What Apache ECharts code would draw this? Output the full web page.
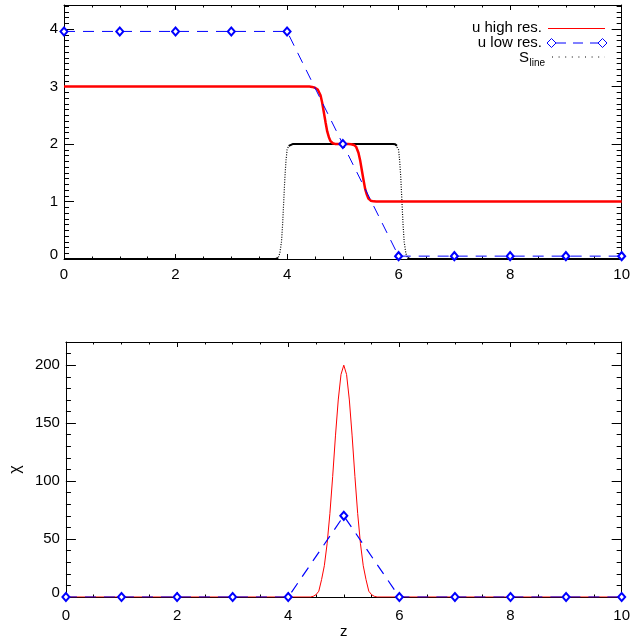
<!DOCTYPE html>
<html><head><meta charset="utf-8">
<script src="https://cdn.jsdelivr.net/npm/echarts@6/dist/echarts.min.js"></script>
<style>html,body{margin:0;padding:0;background:#fff}#c{width:633px;height:641px}</style>
</head><body><div id="c"></div>
<script>
// ---- Data ----
// Top panel: u high resolution
const zHigh = [0, 4.4, 4.45, 4.5, 4.55, 4.6, 4.63, 4.66, 4.69, 4.72, 4.75, 4.78, 4.82, 4.86, 4.9, 5.1, 5.15, 5.2, 5.24, 5.28, 5.31, 5.34, 5.37, 5.40, 5.43, 5.46, 5.5, 5.55, 5.6, 10];
const uHigh = [3, 3, 2.995, 2.98, 2.95, 2.85, 2.72, 2.55, 2.38, 2.22, 2.12, 2.05, 2.015, 2.003, 2, 2, 1.997, 1.985, 1.95, 1.85, 1.72, 1.55, 1.38, 1.22, 1.12, 1.05, 1.015, 1.003, 1, 1];
// Top panel: S_line
const zSline = [0, 3.8, 3.84, 3.87, 3.9, 3.92, 3.94, 3.96, 3.98, 4.0, 4.03, 4.06, 4.1, 5.9, 5.94, 5.97, 6.0, 6.02, 6.04, 6.06, 6.08, 6.1, 6.13, 6.16, 6.2, 10];
const sLine  = [0, 0, 0.02, 0.1, 0.3, 0.6, 1.0, 1.4, 1.7, 1.9, 1.97, 1.995, 2, 2, 1.995, 1.97, 1.9, 1.7, 1.4, 1.0, 0.6, 0.3, 0.1, 0.02, 0, 0];
// Low resolution grid
const zLow = [0, 1, 2, 3, 4, 5, 6, 7, 8, 9, 10];
const uLow = [3.96, 3.96, 3.96, 3.96, 3.96, 2.0, 0.05, 0.05, 0.05, 0.05, 0.05];
// Bottom panel: chi
const zChiHigh = [0, 4.4, 4.45, 4.5, 4.55, 4.6, 4.65, 4.7, 4.75, 4.8, 4.85, 4.9, 4.95, 5.0, 5.05, 5.1, 5.15, 5.2, 5.25, 5.3, 5.35, 5.4, 5.45, 5.5, 5.55, 5.6, 10];
const chiHigh  = [0, 0, 0.6, 2, 5, 15, 27, 46, 72, 104, 139, 170, 192, 200, 192, 170, 139, 104, 72, 46, 27, 15, 5, 2, 0.6, 0, 0];
const chiLow = [0, 0, 0, 0, 0, 70, 0, 0, 0, 0, 0];
// Axis settings
const xRange = [0, 10], xMajor = 2, xMinorSplit = 4;
const yTopRange = [0, 4.42], yTopMajor = 1, yTopMinor = 0.1;
const yBotRange = [0, 220], yBotMajor = 50, yBotMinor = 10;

const FONT = '"Liberation Sans", Arial, sans-serif';
const zip = (a, b) => a.map((v, i) => [v, b[i]]);

function xAxes(gi, labelMargin, name) {
  const base = {
    gridIndex: gi, type: 'value', min: xRange[0], max: xRange[1], interval: xMajor,
    axisLine: { show: true, onZero: false, lineStyle: { color: '#000', width: 1 } },
    axisTick: { show: true, inside: true, length: 5, lineStyle: { color: '#000' } },
    minorTick: { show: true, splitNumber: xMinorSplit, length: 2.5, lineStyle: { color: '#000' } },
    splitLine: { show: false }, minorSplitLine: { show: false }
  };
  return [
    Object.assign({}, base, {
      position: 'bottom',
      axisLabel: { show: true, margin: labelMargin, color: '#000', fontSize: 15, fontFamily: FONT },
      name: name || '', nameLocation: 'middle', nameGap: 24,
      nameTextStyle: { color: '#000', fontSize: 15, fontFamily: FONT }
    }),
    Object.assign({}, base, { position: 'top', axisLabel: { show: false } })
  ];
}

function yAxes(gi, range, major, minor, name) {
  const common = {
    gridIndex: gi, type: 'value', min: range[0], max: range[1],
    splitLine: { show: false }
  };
  const lab = {
    show: true, margin: 6, color: '#000', fontSize: 15, fontFamily: FONT,
    showMaxLabel: false,
    formatter: v => (v === 0 ? '{z|0}' : String(v)),
    rich: { z: { fontSize: 15, fontFamily: FONT, color: '#000', padding: [0, 0, 9, 0] } }
  };
  const mk = (pos, isMajor, withLabel) => Object.assign({}, common, {
    position: pos,
    interval: isMajor ? major : minor,
    axisLine: { show: isMajor, onZero: false, lineStyle: { color: '#000', width: 1 } },
    axisTick: { show: true, inside: true, length: isMajor ? 10 : 5, lineStyle: { color: '#000' } },
    axisLabel: withLabel ? lab : { show: false },
    name: withLabel && name ? name : '',
    nameLocation: 'middle', nameGap: 40, nameRotate: 90,
    nameTextStyle: { color: '#000', fontSize: 16, fontFamily: FONT }
  });
  return [mk('left', true, true), mk('left', false, false), mk('right', true, false), mk('right', false, false)];
}

const sFlat = sLine.map(v => (v > 0.05 && v < 1.95 ? null : v));

const option = {
  animation: false,
  backgroundColor: '#fff',
  grid: [
    { left: 64, right: 6, top: 5, height: 254 },
    { left: 64, right: 6, top: 342, height: 255 }
  ],
  xAxis: [...xAxes(0, 8), ...xAxes(1, 11, 'z')],
  yAxis: [...yAxes(0, yTopRange, yTopMajor, yTopMinor), ...yAxes(1, yBotRange, yBotMajor, yBotMinor, 'χ')],
  series: [
    { type: 'line', xAxisIndex: 0, yAxisIndex: 0, data: zip(zSline, sLine), showSymbol: false, z: 2,
      lineStyle: { color: '#000', width: 1.2, type: [1, 1.5] } },
    { type: 'line', xAxisIndex: 0, yAxisIndex: 0, data: zip(zSline, sFlat), showSymbol: false, z: 2,
      connectNulls: false, lineStyle: { color: '#000', width: 2 } },
    { type: 'line', xAxisIndex: 0, yAxisIndex: 0, data: zip(zHigh, uHigh), showSymbol: false, z: 3,
      lineStyle: { color: '#ff0000', width: 2.5 } },
    { type: 'line', xAxisIndex: 0, yAxisIndex: 0, data: zip(zLow, uLow), z: 4,
      symbol: 'emptyDiamond', symbolSize: [7, 8], showSymbol: true,
      itemStyle: { color: '#0000ff', borderWidth: 1 },
      lineStyle: { color: '#0000ff', width: 1, type: [11, 8] } },
    { type: 'line', xAxisIndex: 2, yAxisIndex: 4, data: zip(zChiHigh, chiHigh), showSymbol: false, z: 3,
      lineStyle: { color: '#ff0000', width: 1 } },
    { type: 'line', xAxisIndex: 2, yAxisIndex: 4, data: zip(zLow, chiLow), z: 4,
      symbol: 'emptyDiamond', symbolSize: [7, 8], showSymbol: true,
      itemStyle: { color: '#0000ff', borderWidth: 1 },
      lineStyle: { color: '#0000ff', width: 1.2, type: [11, 8] } }
  ],
  graphic: [
    { type: 'text', x: 542, y: 28, style: { text: 'u high res.', fill: '#000', font: '15px ' + FONT, align: 'right', verticalAlign: 'middle', textAlign: 'right', textVerticalAlign: 'middle' } },
    { type: 'line', shape: { x1: 548, y1: 28.5, x2: 605, y2: 28.5 }, style: { stroke: '#ff0000', lineWidth: 1 } },
    { type: 'text', x: 542, y: 43, style: { text: 'u low res.', fill: '#000', font: '15px ' + FONT, align: 'right', verticalAlign: 'middle', textAlign: 'right', textVerticalAlign: 'middle' } },
    { type: 'line', shape: { x1: 556, y1: 43, x2: 598, y2: 43 }, style: { stroke: '#0000ff', lineWidth: 1, lineDash: [10, 7] } },
    { type: 'polygon', shape: { points: [[551.5, 38.5], [556, 43], [551.5, 47.5], [547, 43]] }, style: { fill: 'none', stroke: '#0000ff', lineWidth: 1 } },
    { type: 'polygon', shape: { points: [[602.5, 38.5], [607, 43], [602.5, 47.5], [598, 43]] }, style: { fill: 'none', stroke: '#0000ff', lineWidth: 1 } },
    { type: 'text', x: 529, y: 57.5, style: { text: 'S', fill: '#000', font: '15px ' + FONT, align: 'right', verticalAlign: 'middle', textAlign: 'right', textVerticalAlign: 'middle' } },
    { type: 'text', x: 529.5, y: 63, style: { text: 'line', fill: '#000', font: '10px ' + FONT, align: 'left', verticalAlign: 'middle', textAlign: 'left', textVerticalAlign: 'middle' } },
    { type: 'line', shape: { x1: 552, y1: 57, x2: 605, y2: 57 }, style: { stroke: '#000', lineWidth: 1, lineDash: [1, 5.6] } }
  ]
};

const chart = echarts.init(document.getElementById('c'), null, { renderer: 'canvas' });
chart.setOption(option);
</script>
</body></html>
